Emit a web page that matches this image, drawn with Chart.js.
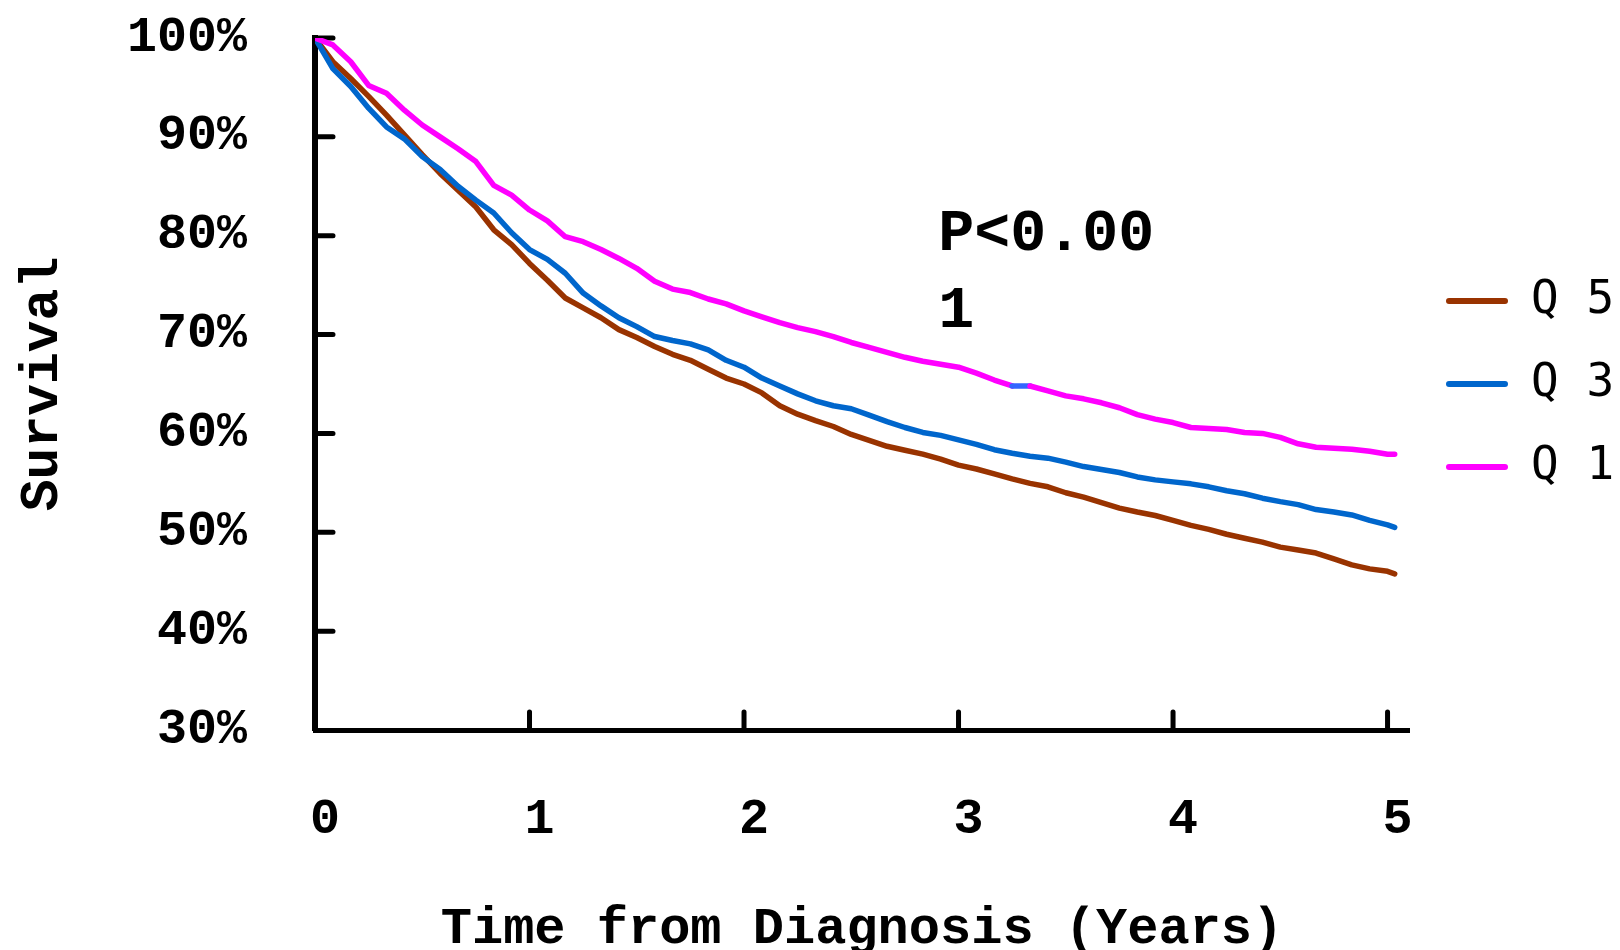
<!DOCTYPE html>
<html>
<head>
<meta charset="utf-8">
<title>Survival by quintile</title>
<script src="https://cdn.jsdelivr.net/npm/chart.js@4.4.1/dist/chart.umd.min.js"></script>
<style>
  html, body { margin: 0; padding: 0; background: #fff; }
  #wrap { width: 1620px; height: 950px; }
</style>
</head>
<body>
<div id="wrap"><canvas id="survivalChart" width="1620" height="950"></canvas></div>
<script>
// months since diagnosis (last point runs just past 5 years)
const months = [
  0, 1, 2, 3, 4, 5, 6, 7, 8, 9, 10, 11, 12, 13, 14, 15, 16, 17, 18, 19,
  20, 21, 22, 23, 24, 25, 26, 27, 28, 29, 30, 31, 32, 33, 34, 35, 36, 37, 38, 39,
  40, 41, 42, 43, 44, 45, 46, 47, 48, 49, 50, 51, 52, 53, 54, 55, 56, 57, 58, 59,
  60, 60.4
];

// survival in %
const q5Survival = [
  100, 97.6, 95.9, 94.1, 92.2, 90.2, 88.2, 86.3, 84.6, 82.9,
  80.6, 79.1, 77.2, 75.5, 73.7, 72.7, 71.7, 70.5, 69.7, 68.8,
  68.0, 67.4, 66.5, 65.6, 65.0, 64.1, 62.8, 61.95, 61.3, 60.7,
  59.9, 59.3, 58.7, 58.3, 57.9, 57.4, 56.8, 56.4, 55.9, 55.4,
  54.95, 54.6, 54.0, 53.55, 53.0, 52.45, 52.05, 51.7, 51.2, 50.7,
  50.3, 49.8, 49.4, 49.0, 48.5, 48.2, 47.9, 47.3, 46.7, 46.3,
  46.05, 45.8
];
const q3Survival = [
  100, 96.9, 95.1, 92.9, 91.0, 89.8, 88.0, 86.7, 85.0, 83.6,
  82.3, 80.3, 78.6, 77.6, 76.2, 74.2, 72.9, 71.7, 70.8, 69.8,
  69.4, 69.06, 68.45, 67.4, 66.7, 65.6, 64.8, 64.0, 63.3, 62.8,
  62.5, 61.85, 61.2, 60.6, 60.1, 59.8, 59.35, 58.9, 58.35, 58.0,
  57.7, 57.5, 57.1, 56.65, 56.35, 56.05, 55.6, 55.3, 55.1, 54.9,
  54.6, 54.2, 53.9, 53.45, 53.1, 52.8, 52.3, 52.05, 51.75, 51.2,
  50.75, 50.5
];
const q1Survival = [
  100.0, 99.3, 97.6, 95.2, 94.4, 92.7, 91.2, 90.0, 88.8, 87.5,
  85.1, 84.1, 82.6, 81.5, 79.9, 79.4, 78.6, 77.7, 76.7, 75.4,
  74.6, 74.25, 73.6, 73.1, 72.4, 71.8, 71.2, 70.7, 70.3, 69.8,
  69.2, 68.7, 68.2, 67.7, 67.3, 67.0, 66.7, 66.1, 65.4, 64.8,
  64.8, 64.3, 63.8, 63.5, 63.1, 62.6, 61.9, 61.45, 61.1, 60.6,
  60.5, 60.4, 60.1, 60.0, 59.6, 58.95, 58.6, 58.5, 58.4, 58.2,
  57.9, 57.9
];

const seriesLabels = ['Q 5', 'Q 3', 'Q 1'];
const xTicks = [0, 1, 2, 3, 4, 5];
const yTicks = [30, 40, 50, 60, 70, 80, 90, 100];
const pValueLines = ['P<0.00', '1'];

// the Q1 curve has one short flat piece drawn in blue in the original
const q1BlueSegment = 39;

const monoFont = '"Liberation Mono", "Courier New", monospace';

function toPoints(values) {
  return values.map((v, i) => ({ x: months[i] / 12, y: v }));
}

function makeSeries(label, values, color, order) {
  return {
    label,
    data: toPoints(values),
    borderColor: color,
    backgroundColor: color,
    borderWidth: 5.5,
    borderCapStyle: 'round',
    borderJoinStyle: 'round',
    pointRadius: 0,
    tension: 0,
    fill: false,
    order,
  };
}

// axis ticks in this chart point into the plot
const innerTicks = {
  id: 'innerTicks',
  beforeDatasetsDraw(chart, args, opts) {
    const { ctx, chartArea, scales: { x, y } } = chart;
    ctx.save();
    ctx.strokeStyle = '#000';
    ctx.lineWidth = opts.width;
    ctx.lineCap = 'round';
    ctx.beginPath();
    y.ticks.forEach((t) => {
      if (t.value === y.min) return;
      const py = y.getPixelForValue(t.value);
      ctx.moveTo(chartArea.left, py);
      ctx.lineTo(chartArea.left + opts.length, py);
    });
    x.ticks.forEach((t) => {
      if (t.value === x.min) return;
      const px = x.getPixelForValue(t.value);
      ctx.moveTo(px, chartArea.bottom);
      ctx.lineTo(px, chartArea.bottom - opts.length);
    });
    ctx.stroke();
    ctx.restore();
  },
};

const pValueNote = {
  id: 'pValueNote',
  afterDatasetsDraw(chart, args, opts) {
    const { ctx, scales: { x, y } } = chart;
    ctx.save();
    ctx.font = `bold ${opts.size}px ${monoFont}`;
    ctx.fillStyle = '#000';
    ctx.textAlign = 'left';
    ctx.textBaseline = 'alphabetic';
    const left = x.getPixelForValue(opts.x);
    const top = y.getPixelForValue(opts.y);
    opts.lines.forEach((line, i) => {
      ctx.fillText(line, left, top + i * opts.lineGap);
    });
    ctx.restore();
  },
};

const survivalChart = new Chart(document.getElementById('survivalChart'), {
  type: 'line',
  data: {
    datasets: [
      makeSeries(seriesLabels[0], q5Survival, '#993300', 2),
      makeSeries(seriesLabels[1], q3Survival, '#0066CC', 1),
      {
        ...makeSeries(seriesLabels[2], q1Survival, '#FF00FF', 0),
        segment: {
          borderColor: (c) => (c.p0DataIndex === q1BlueSegment ? '#3366FF' : undefined),
        },
      },
    ],
  },
  options: {
    responsive: false,
    animation: false,
    devicePixelRatio: 1,
    layout: { padding: { top: 38, left: 0, right: 0, bottom: 0 } },
    plugins: {
      tooltip: { enabled: false },
      legend: {
        position: 'right',
        fullSize: false,
        maxWidth: 211,
        labels: {
          boxWidth: 62,
          boxHeight: 6,
          padding: 37,
          color: '#000',
          font: { family: '"DejaVu Sans Mono", monospace', size: 46 },
          sort: (a, b) => a.datasetIndex - b.datasetIndex,
          generateLabels(chart) {
            return Chart.defaults.plugins.legend.labels.generateLabels(chart).map((item) => ({
              ...item,
              fillStyle: item.strokeStyle,
              lineWidth: 0,
              borderRadius: 3,
            }));
          },
        },
      },
      innerTicks: { width: 5, length: 18 },
      pValueNote: { lines: pValueLines, x: 2.905, y: 78.56, lineGap: 77, size: 60 },
    },
    scales: {
      x: {
        type: 'linear',
        min: 0,
        max: 5.1,
        afterBuildTicks: (s) => { s.ticks = xTicks.map((v) => ({ value: v })); },
        afterFit: (s) => {
          s.height = 220;
          s.paddingLeft = 0;
          s.paddingRight = 0;
        },
        grid: { display: true, drawOnChartArea: false, drawTicks: false },
        border: { display: true, color: '#000', width: 5 },
        ticks: {
          color: '#000',
          padding: 60,
          labelOffset: 10,
          maxRotation: 0,
          font: { family: monoFont, size: 50, weight: 'bold' },
          callback: (v) => String(v),
        },
        title: {
          display: true,
          text: 'Time from Diagnosis (Years)',
          color: '#000',
          padding: { top: 0, bottom: 0 },
          font: { family: monoFont, size: 52, weight: 'bold', lineHeight: 0.78 },
        },
      },
      y: {
        min: 30,
        max: 100,
        afterBuildTicks: (s) => { s.ticks = yTicks.map((v) => ({ value: v })); },
        afterFit: (s) => {
          s.width = 315;
          s.paddingTop = 0;
          s.paddingBottom = 0;
        },
        grid: { display: true, drawOnChartArea: false, drawTicks: false },
        border: { display: true, color: '#000', width: 6 },
        ticks: {
          color: '#000',
          padding: 68,
          font: { family: monoFont, size: 50, weight: 'bold' },
          callback: (v) => `${v}%`,
        },
        title: {
          display: true,
          text: 'Survival',
          color: '#000',
          padding: { top: 12, bottom: 0 },
          font: { family: monoFont, size: 53, weight: 'bold', lineHeight: 1.2 },
        },
      },
    },
  },
  plugins: [innerTicks, pValueNote],
});
</script>
</body>
</html>
